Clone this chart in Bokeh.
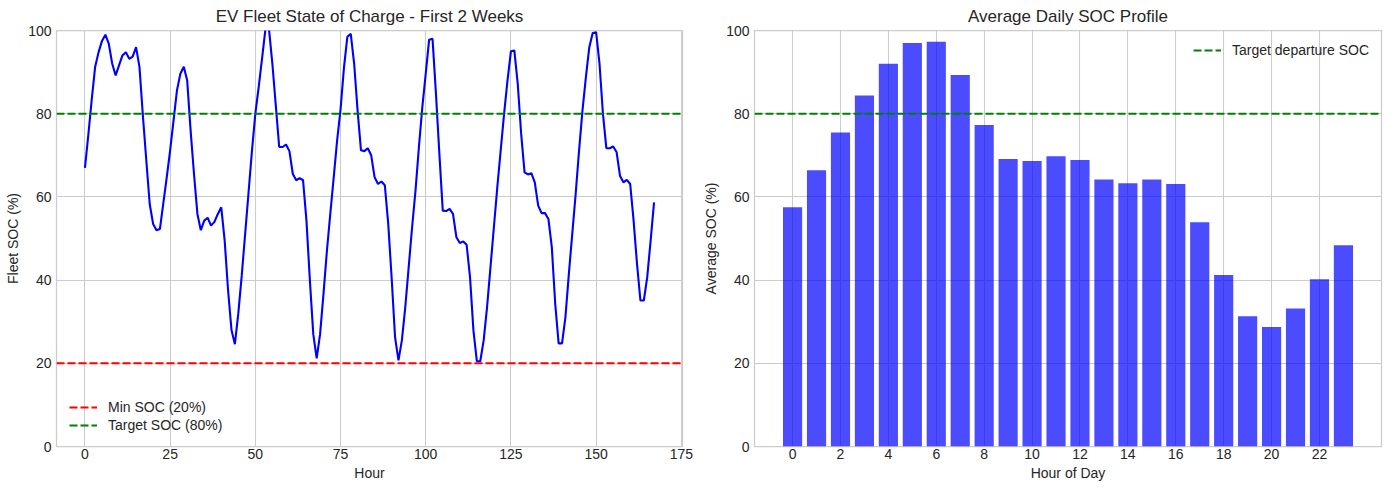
from bokeh.plotting import figure
from bokeh.layouts import row
from bokeh.models import FixedTicker, Range1d, Span
from bokeh.embed import file_html
from bokeh.resources import INLINE

# ---------------- data ----------------
hours = list(range(168))
fleet_soc = [
    67.0, 75.0, 83.5, 91.3, 94.8, 97.5, 99.0, 96.8, 92.0, 89.2,
    91.6, 94.0, 94.8, 93.2, 93.7, 96.0, 91.2, 79.5, 68.8, 58.3,
    53.5, 52.0, 52.3, 58.5, 64.7, 71.2, 78.4, 85.6, 89.6, 91.3,
    88.0, 76.0, 65.5, 55.9, 52.0, 54.3, 55.0, 53.1, 54.0, 55.9,
    57.5, 49.5, 37.5, 28.0, 24.6, 32.0, 41.0, 51.0, 61.0, 71.0,
    80.0, 86.5, 93.5, 100.6, 100.4, 92.0, 82.0, 72.0, 72.0, 72.6,
    71.0, 65.5, 64.0, 64.5, 64.0, 54.3, 40.0, 27.0, 21.2, 27.0,
    36.7, 47.0, 56.0, 64.7, 73.6, 81.0, 91.0, 98.5, 99.2, 92.0,
    80.8, 71.2, 71.0, 71.7, 70.0, 64.7, 63.1, 63.7, 62.8, 53.5,
    40.5, 26.3, 20.7, 25.5, 33.5, 43.1, 52.7, 61.5, 72.0, 81.6,
    89.6, 97.8, 98.0, 84.8, 70.4, 56.7, 56.6, 57.1, 55.9, 50.3,
    48.9, 49.3, 48.5, 40.7, 27.9, 20.5, 20.5, 25.5, 33.5, 43.1,
    52.7, 62.3, 71.2, 80.0, 88.0, 95.0, 95.2, 87.2, 75.2, 65.9,
    65.4, 65.7, 63.5, 57.9, 56.1, 56.1, 54.7, 47.9, 34.3, 24.8,
    24.8, 31.1, 41.5, 51.1, 60.7, 71.2, 80.8, 88.8, 96.0, 99.4,
    99.6, 92.0, 80.0, 71.7, 71.7, 72.1, 70.8, 65.1, 63.5, 64.1,
    63.1, 54.3, 43.9, 35.1, 35.1, 40.7, 49.5, 58.7,
]
hour_of_day = list(range(24))
avg_soc = [
    57.5, 66.4, 75.5, 84.4, 92.0, 97.0, 97.3, 89.3, 77.3, 69.1,
    68.6, 69.8, 68.9, 64.2, 63.3, 64.2, 63.1, 53.9, 41.2, 31.3,
    28.7, 33.2, 40.2, 48.4,
]
MIN_SOC = 20
TARGET_SOC = 80
left_xticks = [0, 25, 50, 75, 100, 125, 150, 175]
right_xticks = [0, 2, 4, 6, 8, 10, 12, 14, 16, 18, 20, 22]
y_ticks = [0, 20, 40, 60, 80, 100]
Y_MIN, Y_MAX = 0, 100

FONT = "Liberation Sans"
TXT = "#262626"
GRID = "#cccccc"
LW = 2.1
DASH = "8 3"
NAN = float("nan")


def style(p, xticks, title):
    p.outline_line_color = GRID
    p.outline_line_width = 1.25
    for ax in (p.xaxis[0], p.yaxis[0]):
        ax.axis_line_color = None
        ax.major_tick_line_color = None
        ax.minor_tick_line_color = None
        ax.major_tick_out = 0
        ax.major_tick_in = 0
        ax.major_label_text_font = FONT
        ax.major_label_text_font_size = "14px"
        ax.major_label_text_color = TXT
        ax.axis_label_text_font = FONT
        ax.axis_label_text_font_size = "14px"
        ax.axis_label_text_color = TXT
        ax.axis_label_text_font_style = "normal"
    p.xaxis[0].major_label_standoff = 2
    p.xaxis[0].axis_label_standoff = 3
    p.yaxis[0].major_label_standoff = 5
    p.yaxis[0].axis_label_standoff = 4
    p.xaxis[0].ticker = FixedTicker(ticks=xticks)
    p.yaxis[0].ticker = FixedTicker(ticks=y_ticks)
    p.xgrid.grid_line_color = GRID
    p.ygrid.grid_line_color = GRID
    p.xgrid.grid_line_width = 1.1
    p.ygrid.grid_line_width = 1.1
    p.title.text = title
    p.title.text_font = FONT
    p.title.text_font_size = "17px"
    p.title.text_font_style = "normal"
    p.title.text_color = TXT
    p.title.align = "center"
    p.title.vertical_align = "top"
    p.title.text_line_height = 0.8
    p.title.standoff = 5
    p.background_fill_color = "white"
    p.border_fill_color = "white"


def style_legend(p, loc, margin):
    lg = p.legend[0]
    lg.location = loc
    lg.border_line_color = None
    lg.background_fill_alpha = 0
    lg.label_text_font = FONT
    lg.label_text_font_size = "14px"
    lg.label_text_color = TXT
    lg.glyph_width = 28
    lg.glyph_height = 16
    lg.label_height = 16
    lg.label_standoff = 11
    lg.margin = margin
    lg.padding = 0
    lg.spacing = 2


# ---------------- left: time series ----------------
xspan = max(hours) - min(hours)
p1 = figure(width=700, height=490, output_backend="svg", toolbar_location=None, tools="",
            x_range=Range1d(min(hours) - 0.05 * xspan, max(hours) + 0.05 * xspan),
            y_range=Range1d(Y_MIN, Y_MAX),
            min_border_left=56, min_border_right=18, min_border_top=30, min_border_bottom=44,
            x_axis_label="Hour", y_axis_label="Fleet SOC (%)")
style(p1, left_xticks, "EV Fleet State of Charge - First 2 Weeks")
p1.line(hours, fleet_soc, line_color="blue", line_width=LW)
p1.add_layout(Span(location=MIN_SOC, dimension="width", line_color="red",
                   line_width=LW, line_dash=DASH))
p1.add_layout(Span(location=TARGET_SOC, dimension="width", line_color="green",
                   line_width=LW, line_dash=DASH))
# legend-only renderers (no visible data)
p1.line(x=[NAN], y=[NAN], line_color="red", line_width=LW, line_dash=DASH,
        legend_label="Min SOC (20%)")
p1.line(x=[NAN], y=[NAN], line_color="green", line_width=LW, line_dash=DASH,
        legend_label="Target SOC (80%)")
style_legend(p1, "bottom_left", 13)

# ---------------- right: daily profile ----------------
bw = 0.8
lo = min(hour_of_day) - bw / 2
hi = max(hour_of_day) + bw / 2
m = 0.05 * (hi - lo)
p2 = figure(width=690, height=490, output_backend="svg", toolbar_location=None, tools="",
            x_range=Range1d(lo - m, hi + m), y_range=Range1d(Y_MIN, Y_MAX),
            min_border_left=54, min_border_right=9, min_border_top=30, min_border_bottom=44,
            x_axis_label="Hour of Day", y_axis_label="Average SOC (%)")
style(p2, right_xticks, "Average Daily SOC Profile")
p2.vbar(x=hour_of_day, top=avg_soc, width=bw, fill_color="blue", fill_alpha=0.7,
        line_color=None)
p2.add_layout(Span(location=TARGET_SOC, dimension="width", line_color="green",
                   line_width=LW, line_dash=DASH))
p2.line(x=[NAN], y=[NAN], line_color="green", line_width=LW, line_dash=DASH,
        legend_label="Target departure SOC")
style_legend(p2, "top_right", 12)

layout = row(p1, p2)
open("out.html", "w").write(file_html(layout, INLINE))
